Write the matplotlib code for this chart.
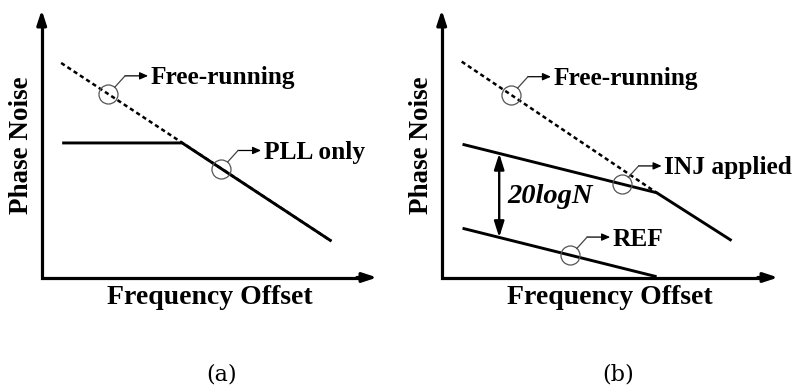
import numpy as np
import matplotlib
matplotlib.use("Agg")
import matplotlib.pyplot as plt
from matplotlib.transforms import Affine2D, ScaledTranslation

plt.rcParams["font.family"] = ["Liberation Serif", "DejaVu Serif"]

# ---- schematic noise profiles (axis units 0..100) ----
# panel (a)
a_free_x = [5.8, 86.4]
a_free_y = [80.2, 13.6]
a_pll_x = [6.1, 41.9, 86.4]
a_pll_y = [50.3, 50.3, 13.6]
a_tags = [("Free-running", "free", 19.8), ("PLL only", "pll", 53.5)]

# panel (b)
b_free_x = [5.95, 63.9]
b_free_y = [80.7, 31.7]
b_inj_x = [6.2, 63.9, 86.2]
b_inj_y = [49.8, 31.7, 13.8]
b_ref_x = [6.2, 63.9]
b_ref_y = [18.4, 0.3]
b_tags = [("Free-running", "free", 20.6), ("INJ applied", "inj", 53.5), ("REF", "ref", 38.2)]
gap_x = 17.1
gap_label = "20logN"

axis_xlabel = "Frequency Offset"
axis_ylabel = "Phase Noise"
captions = ["(a)", "(b)"]

W, H = 795, 392
fig = plt.figure(figsize=(W / 100, H / 100), dpi=100)


def px_axes(x0, x1, ytop, ybot):
    return fig.add_axes([x0 / W, 1 - ybot / H, (x1 - x0) / W, (ybot - ytop) / H])


def frame(ax):
    ax.set_xlim(0, 100)
    ax.set_ylim(0, 100)
    ax.axis("off")
    # axis shafts as one joined polyline, heads added separately
    ax.plot([0, 0, 97], [97, 0, 0], color="black", lw=2.3,
            solid_joinstyle="miter", solid_capstyle="butt", clip_on=False)
    style = "-|>,head_length=0.85,head_width=0.28"
    kw = dict(arrowstyle=style, mutation_scale=10, lw=2.3, color="black",
              shrinkA=0, shrinkB=0)
    ax.annotate("", xy=(100, 0), xytext=(94, 0), arrowprops=kw,
                annotation_clip=False)
    ax.annotate("", xy=(0, 100), xytext=(0, 94), arrowprops=kw,
                annotation_clip=False)
    ax.text(-0.06, 0.493, axis_ylabel, transform=ax.transAxes, rotation=90,
            ha="center", va="center", fontsize=19.5, fontweight="bold")
    ax.text(0.5, -0.075, axis_xlabel, transform=ax.transAxes,
            ha="center", va="center", fontsize=20, fontweight="bold")


def tag(ax, x, y, label):
    # circle on the curve with a bent leader arrow and label (offsets in points)
    tr = Affine2D().scale(1 / 72) + fig.dpi_scale_trans + ScaledTranslation(x, y, ax.transData)
    ax.plot([x], [y], "o", ms=13.7, mfc="none", mec="#555555", mew=0.9,
            clip_on=False, zorder=4)
    ax.plot([4.8, 12.2], [4.8, 13.0], transform=tr, color="#444444", lw=0.9,
            clip_on=False, zorder=4)
    ax.annotate("", xy=(28.8, 13.0), xytext=(12.2, 13.0), xycoords=tr, textcoords=tr,
                arrowprops=dict(arrowstyle="-|>,head_length=0.5,head_width=0.22",
                                mutation_scale=10, lw=0.9, color="black",
                                shrinkA=0, shrinkB=0),
                annotation_clip=False)
    ax.text(30.8, 6.9, label, transform=tr, ha="left", va="baseline",
            fontsize=18.3, fontweight="bold")


dash = (0, (1.7, 1.3))

# ---- panel (a) ----
ax1 = px_axes(41.7, 377, 10, 277.5)
frame(ax1)
ax1.plot(a_free_x, a_free_y, color="black", lw=1.8, ls=dash, zorder=2)
ax1.plot(a_pll_x, a_pll_y, color="black", lw=2.1, solid_capstyle="butt", zorder=3)
a_curves = {"free": (a_free_x, a_free_y), "pll": (a_pll_x, a_pll_y)}
for label, key, xc in a_tags:
    cx, cy = a_curves[key]
    tag(ax1, xc, np.interp(xc, cx, cy), label)

# ---- panel (b) ----
ax2 = px_axes(441.7, 778, 10, 277.5)
frame(ax2)
ax2.plot(b_free_x, b_free_y, color="black", lw=1.8, ls=dash, zorder=2)
ax2.plot(b_inj_x, b_inj_y, color="black", lw=2.1, solid_capstyle="butt", zorder=3)
ax2.plot(b_ref_x, b_ref_y, color="black", lw=2.1, solid_capstyle="butt", zorder=3)
b_curves = {"free": (b_free_x, b_free_y), "inj": (b_inj_x, b_inj_y), "ref": (b_ref_x, b_ref_y)}
for label, key, xc in b_tags:
    cx, cy = b_curves[key]
    tag(ax2, xc, np.interp(xc, cx, cy), label)

y_top = np.interp(gap_x, b_inj_x, b_inj_y)
y_bot = np.interp(gap_x, b_ref_x, b_ref_y)
ax2.annotate("", xy=(gap_x, y_top), xytext=(gap_x, y_bot),
             arrowprops=dict(arrowstyle="<|-|>,head_length=0.95,head_width=0.3",
                             mutation_scale=10, lw=1.7, color="black",
                             shrinkA=0, shrinkB=0))
ax2.text(19.5, 30.2, gap_label, ha="left", va="center", fontsize=20.5,
         fontweight="bold", fontstyle="italic")

# ---- captions ----
for cx, text in zip([222, 618], captions):
    fig.text(cx / W, 1 - 374 / H, text, ha="center", va="center",
             fontsize=16, family="DejaVu Serif")

fig.savefig("out.png", dpi=100)
